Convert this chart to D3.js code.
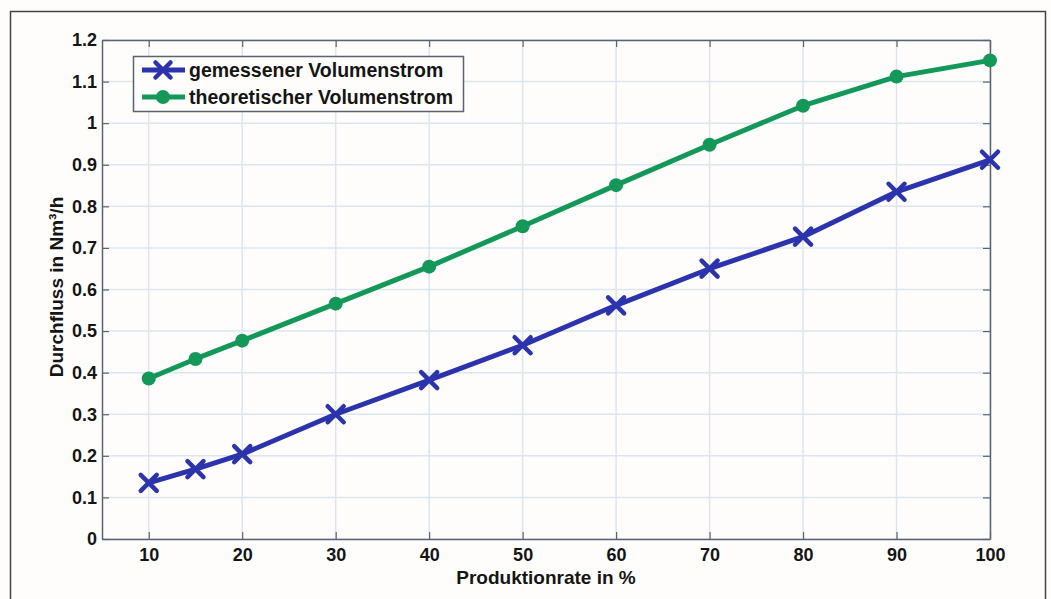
<!DOCTYPE html>
<html>
<head>
<meta charset="utf-8">
<script src="https://cdn.jsdelivr.net/npm/d3@7"></script>
<style>
  body { margin: 0; background: #fffdfc; }
  text { font-family: "Liberation Sans", Arial, sans-serif; font-weight: bold; fill: #151515; }
</style>
</head>
<body>
<div id="graph"></div>
<script>
var w = 1051, h = 599

// data
var rate = [10, 15, 20, 30, 40, 50, 60, 70, 80, 90, 100]
var gemessen = [0.135, 0.168, 0.204, 0.300, 0.382, 0.466, 0.562, 0.650, 0.727, 0.835, 0.912]
var theoretisch = [0.386, 0.433, 0.477, 0.566, 0.655, 0.752, 0.851, 0.948, 1.042, 1.112, 1.151]
var xTicks = [10, 20, 30, 40, 50, 60, 70, 80, 90, 100]
var yTicks = [0, 0.1, 0.2, 0.3, 0.4, 0.5, 0.6, 0.7, 0.8, 0.9, 1, 1.1, 1.2]
var seriesNames = ['gemessener Volumenstrom', 'theoretischer Volumenstrom']

var blue = '#2b33ad', green = '#14985a'

var m = {left: 102, top: 40, right: 990, bottom: 539}

var x = d3.scaleLinear().domain([5, 100]).range([m.left, m.right])
var y = d3.scaleLinear().domain([0, 1.2]).range([m.bottom, m.top])

var svg = d3.select('#graph').append('svg')
    .attr('width', w).attr('height', h)

// outer frame
svg.append('rect')
    .attr('x', 10.5).attr('y', 11.5).attr('width', 1035).attr('height', 620)
    .attr('fill', '#fffdfc').attr('stroke', '#444').attr('stroke-width', 1.5)

// grid
svg.append('g').selectAll('line').data(xTicks).enter().append('line')
    .attr('x1', x).attr('x2', x).attr('y1', m.top).attr('y2', m.bottom)
    .attr('stroke', '#dce6ee').attr('stroke-width', 1.5)
svg.append('g').selectAll('line').data(yTicks).enter().append('line')
    .attr('y1', y).attr('y2', y).attr('x1', m.left).attr('x2', m.right)
    .attr('stroke', '#dce6ee').attr('stroke-width', 1.5)

// axes, ticks inside like matlab
var tk = 7
svg.append('g').attr('transform', 'translate(0,' + m.bottom + ')')
    .call(d3.axisBottom(x).tickValues(xTicks).tickSizeInner(-tk).tickSizeOuter(0).tickPadding(9))
svg.append('g').attr('transform', 'translate(0,' + m.top + ')')
    .call(d3.axisTop(x).tickValues(xTicks).tickSizeInner(-tk).tickSizeOuter(0).tickFormat(''))
svg.append('g').attr('transform', 'translate(' + m.left + ',0)')
    .call(d3.axisLeft(y).tickValues(yTicks).tickSizeInner(-tk).tickSizeOuter(0).tickPadding(5)
      .tickFormat(function(d){ return d3.format('')(+d.toFixed(1)) }))
svg.append('g').attr('transform', 'translate(' + m.right + ',0)')
    .call(d3.axisRight(y).tickValues(yTicks).tickSizeInner(-tk).tickSizeOuter(0).tickFormat(''))

svg.selectAll('.domain').attr('stroke', '#5a6470').attr('stroke-width', 1.5)
svg.selectAll('.tick line').attr('stroke', '#5a6470').attr('stroke-width', 1.2)
svg.selectAll('.tick text').style('font-size', '18px').style('font-family', '"Liberation Sans", Arial, sans-serif')
    .style('font-weight', 'bold').attr('fill', '#151515')

// lines
var line = d3.line().x(function(d){ return x(d[0]) }).y(function(d){ return y(d[1]) })
var dBlue = rate.map(function(r, i){ return [r, gemessen[i]] })
var dGreen = rate.map(function(r, i){ return [r, theoretisch[i]] })

svg.append('path').datum(dGreen).attr('d', line)
    .attr('fill', 'none').attr('stroke', green).attr('stroke-width', 5).attr('stroke-linejoin', 'round')
svg.append('g').selectAll('circle').data(dGreen).enter().append('circle')
    .attr('cx', function(d){ return x(d[0]) }).attr('cy', function(d){ return y(d[1]) })
    .attr('r', 7).attr('fill', green)

svg.append('path').datum(dBlue).attr('d', line)
    .attr('fill', 'none').attr('stroke', blue).attr('stroke-width', 5).attr('stroke-linejoin', 'round')

function cross(g, cx, cy, s){
  g.append('path')
      .attr('d', 'M' + (cx - s) + ',' + (cy - s) + 'L' + (cx + s) + ',' + (cy + s) +
                 'M' + (cx - s) + ',' + (cy + s) + 'L' + (cx + s) + ',' + (cy - s))
      .attr('stroke', blue).attr('stroke-width', 4.5).attr('stroke-linecap', 'round')
}
var gx = svg.append('g')
dBlue.forEach(function(d){ cross(gx, x(d[0]), y(d[1]), 8) })

// legend
var lg = svg.append('g')
lg.append('rect').attr('x', 133.5).attr('y', 56.5).attr('width', 330).attr('height', 55)
    .attr('fill', '#fffdfc').attr('stroke', '#5a6470').attr('stroke-width', 1.5)
;[[blue, 70], [green, 97]].forEach(function(s, i){
  lg.append('line').attr('x1', 142).attr('x2', 185).attr('y1', s[1]).attr('y2', s[1])
      .attr('stroke', s[0]).attr('stroke-width', 5)
  if (i == 0) cross(lg, 163, s[1], 7.5)
  else lg.append('circle').attr('cx', 163).attr('cy', s[1]).attr('r', 7).attr('fill', green)
  lg.append('text').attr('x', 189).attr('y', s[1] + 7).style('font-size', '19.5px').text(seriesNames[i])
})

// axis labels
svg.append('text').attr('x', 546).attr('y', 584).attr('text-anchor', 'middle')
    .style('font-size', '19px').text('Produktionrate in %')
svg.append('text').attr('transform', 'translate(63,287) rotate(-90)')
    .attr('text-anchor', 'middle').style('font-size', '19px').text('Durchfluss in Nm³/h')
</script>
</body>
</html>
